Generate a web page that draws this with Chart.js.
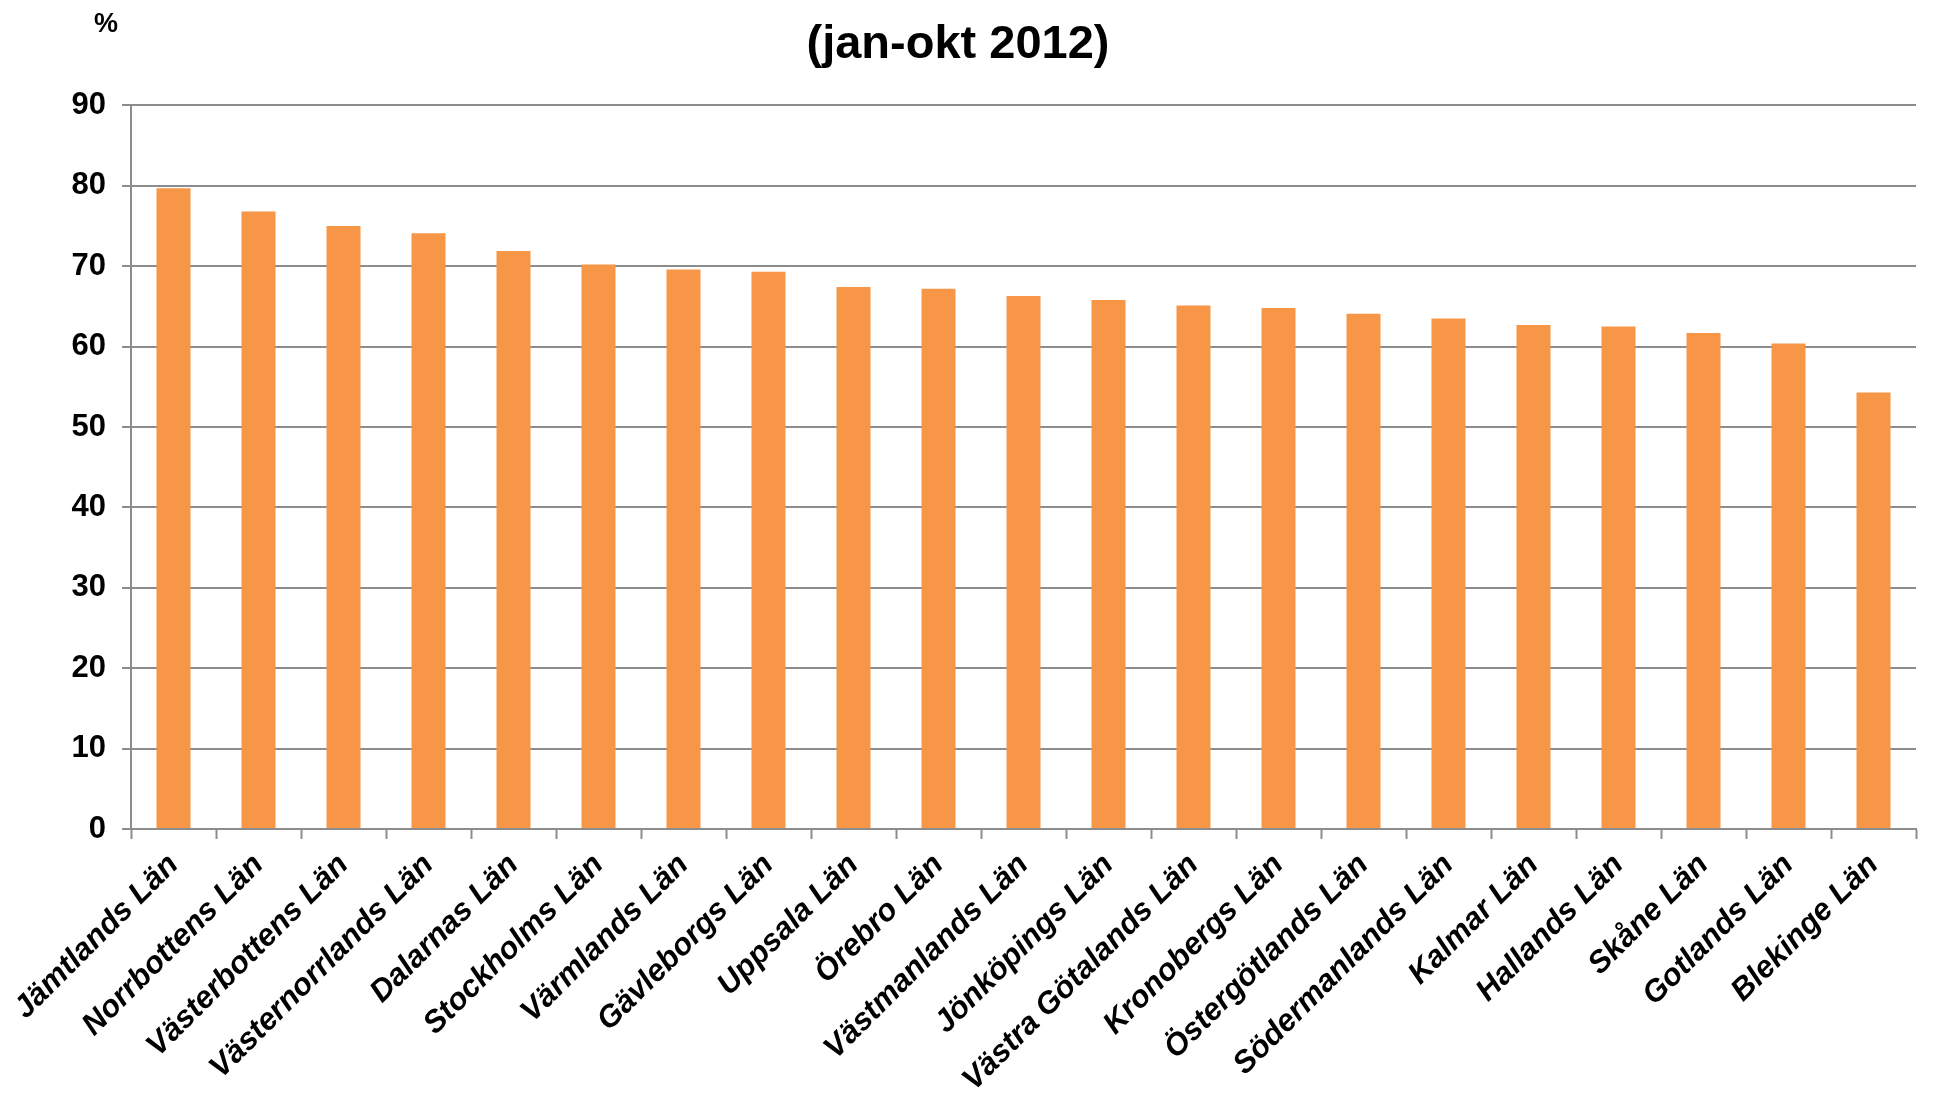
<!DOCTYPE html>
<html>
<head>
<meta charset="utf-8">
<script src="https://cdn.jsdelivr.net/npm/chart.js@4/dist/chart.umd.min.js"></script>
<style>
  body { margin: 0; background: #fff; }
  #wrap { width: 1941px; height: 1101px; }
</style>
</head>
<body>
<div id="wrap"><canvas id="chart"></canvas></div>
<script>
const lan = ['Jämtlands Län', 'Norrbottens Län', 'Västerbottens Län', 'Västernorrlands Län', 'Dalarnas Län',
    'Stockholms Län', 'Värmlands Län', 'Gävleborgs Län', 'Uppsala Län', 'Örebro Län', 'Västmanlands Län',
    'Jönköpings Län', 'Västra Götalands Län', 'Kronobergs Län', 'Östergötlands Län', 'Södermanlands Län',
    'Kalmar Län', 'Hallands Län', 'Skåne Län', 'Gotlands Län', 'Blekinge Län'];
const andel = [79.7, 76.8, 75.0, 74.1, 71.9, 70.2, 69.6, 69.3, 67.4, 67.2, 66.3,
    65.8, 65.1, 64.8, 64.1, 63.5, 62.7, 62.5, 61.7, 60.4, 54.3];
const yMax = 90;
const yStep = 10;

const font = 'Liberation Sans, Arial, sans-serif';
const gridColor = '#8c8c8c';

// "%" unit label above the y axis
const unitLabel = {
    id: 'unitLabel',
    afterDraw(c) {
        const ctx = c.ctx;
        ctx.save();
        ctx.font = 'bold 27px ' + font;
        ctx.fillStyle = '#000';
        ctx.textAlign = 'center';
        ctx.textBaseline = 'middle';
        ctx.fillText('%', 106, 25);
        ctx.restore();
    }
};

const chart = document.querySelector('#chart').getContext('2d');

new Chart(chart, {
    type: 'bar',
    data: {
        labels: lan,
        datasets: [{
            data: andel,
            backgroundColor: '#F79646',
            borderWidth: 0,
            categoryPercentage: 1,
            barPercentage: 0.4
        }]
    },
    options: {
        responsive: true,
        maintainAspectRatio: false,
        animation: false,
        layout: { padding: { top: 0, right: 25, left: 0, bottom: 0 } },
        plugins: {
            legend: { display: false },
            tooltip: { enabled: false },
            title: {
                display: true,
                text: '(jan-okt 2012)',
                color: '#000',
                font: { family: font, size: 47, weight: 'bold', lineHeight: 1.2 },
                padding: { top: 17, bottom: 32 }
            }
        },
        scales: {
            x: {
                grid: {
                    display: true,
                    drawOnChartArea: false,
                    drawTicks: true,
                    tickLength: 10,
                    tickWidth: 2,
                    tickColor: gridColor
                },
                border: { color: gridColor, width: 2 },
                ticks: {
                    autoSkip: false,
                    maxRotation: 45,
                    minRotation: 45,
                    padding: 8,
                    color: '#000',
                    font: { family: font, size: 31, weight: 'bold', style: 'italic' }
                },
                afterFit(scale) { scale.height = 272; }
            },
            y: {
                min: 0,
                max: yMax,
                grid: {
                    color: gridColor,
                    lineWidth: 2,
                    tickLength: 9
                },
                border: { color: gridColor, width: 2 },
                ticks: {
                    stepSize: yStep,
                    padding: 16,
                    color: '#000',
                    font: { family: font, size: 31, weight: 'bold' }
                },
                afterFit(scale) { scale.width = 131; }
            }
        }
    },
    plugins: [unitLabel]
});
</script>
</body>
</html>
